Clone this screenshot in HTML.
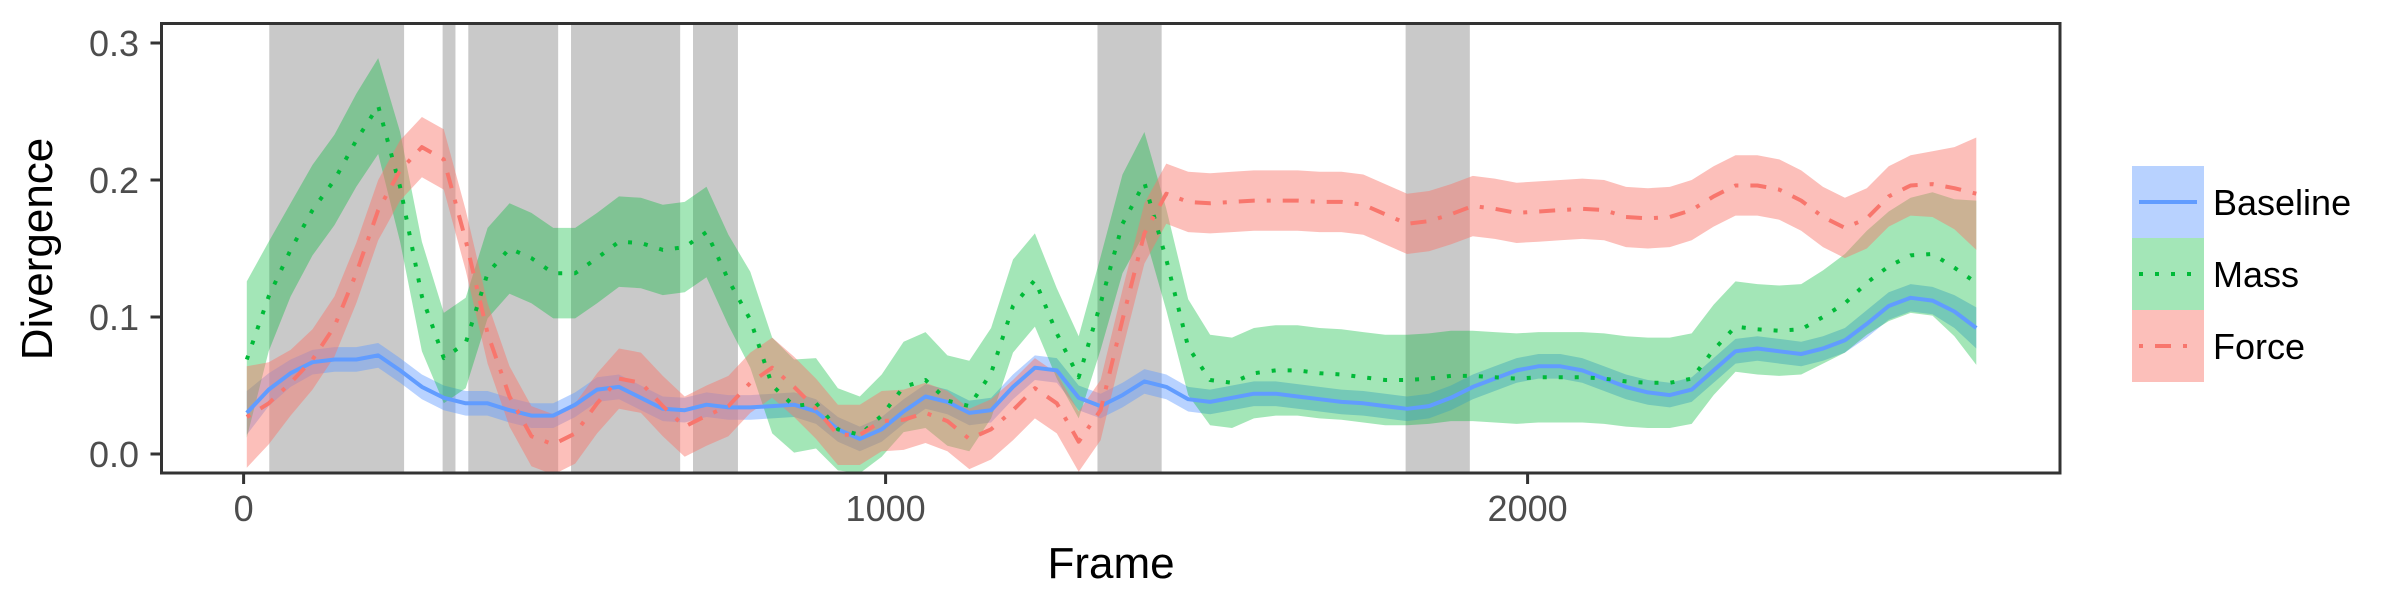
<!DOCTYPE html>
<html><head><meta charset="utf-8"><style>
html,body{margin:0;padding:0;background:#fff;}
svg{display:block;font-family:"Liberation Sans",Arial,sans-serif;}
</style></head><body>
<svg id="chart" width="2400" height="600" viewBox="0 0 2400 600">
<g id="rects"></g>
<g id="series"></g>
<rect x="161.5" y="23.5" width="1898.5" height="449.5" fill="none" stroke="#333" stroke-width="3"/>
<g id="axes"></g>
<text x="1111" y="578" font-size="44" text-anchor="middle" fill="#000">Frame</text>
<text transform="translate(52,249) rotate(-90)" font-size="44" text-anchor="middle" fill="#000">Divergence</text>
<g id="legend"></g>
</svg>
<script>
const frameStart = 5, frameStep = 34.1;
const baseline = [0.030,0.047,0.059,0.067,0.069,0.069,0.072,0.061,0.049,0.041,0.037,0.037,0.032,0.028,0.028,0.036,0.047,0.049,0.041,0.033,0.032,0.036,0.034,
0.034,0.035,0.036,0.031,0.018,0.011,0.018,0.031,0.042,0.038,0.030,0.032,0.049,0.063,0.061,0.041,0.035,0.043,0.053,0.049,0.040,0.038,0.041,
0.044,0.044,0.042,0.040,0.038,0.037,0.035,0.033,0.035,0.041,0.049,0.055,0.061,0.064,0.064,0.061,0.055,0.049,0.045,0.043,0.047,0.061,0.075,
0.077,0.075,0.073,0.077,0.083,0.095,0.108,0.114,0.112,0.104,0.092];
const mass = [0.069,0.115,0.149,0.178,0.200,0.229,0.254,0.195,0.115,0.070,0.081,0.132,0.150,0.143,0.132,0.132,0.143,0.155,0.154,0.149,0.151,0.162,0.127,
0.098,0.050,0.035,0.037,0.018,0.014,0.028,0.049,0.054,0.039,0.035,0.059,0.108,0.127,0.088,0.056,0.110,0.168,0.198,0.142,0.078,0.054,0.052,
0.059,0.061,0.061,0.059,0.058,0.056,0.054,0.054,0.055,0.057,0.057,0.056,0.055,0.056,0.056,0.056,0.055,0.053,0.052,0.052,0.055,0.076,0.093,
0.091,0.090,0.091,0.100,0.110,0.125,0.137,0.145,0.146,0.136,0.125];
const force = [0.027,0.037,0.052,0.069,0.093,0.132,0.178,0.207,0.224,0.215,0.156,0.088,0.042,0.013,0.007,0.015,0.037,0.055,0.052,0.035,0.020,0.028,0.035,
0.052,0.063,0.049,0.033,0.014,0.014,0.024,0.025,0.030,0.024,0.011,0.018,0.032,0.048,0.037,0.009,0.032,0.098,0.161,0.190,0.184,0.183,0.184,
0.185,0.185,0.185,0.184,0.184,0.182,0.175,0.168,0.170,0.175,0.181,0.179,0.176,0.177,0.178,0.179,0.178,0.173,0.172,0.173,0.178,0.188,0.196,
0.196,0.193,0.185,0.173,0.165,0.172,0.188,0.196,0.197,0.194,0.190];
const baselineSe = [0.016,0.012,0.01,0.009,0.009,0.009,0.009,0.009,0.009,0.009,0.009,0.009,0.009,0.009,0.009,0.009,0.009,0.009,0.009,0.009,0.009,0.009,0.009,
0.009,0.009,0.009,0.009,0.009,0.009,0.009,0.009,0.009,0.009,0.009,0.009,0.009,0.009,0.009,0.009,0.009,0.009,0.009,0.009,0.009,0.009,0.009,
0.009,0.009,0.009,0.009,0.009,0.009,0.009,0.009,0.009,0.009,0.009,0.009,0.009,0.009,0.009,0.009,0.009,0.009,0.009,0.009,0.009,0.009,0.009,
0.009,0.009,0.009,0.009,0.009,0.01,0.01,0.01,0.01,0.012,0.015];
const massSe = [0.057,0.04,0.034,0.033,0.033,0.034,0.035,0.04,0.04,0.033,0.033,0.033,0.033,0.033,0.033,0.033,0.033,0.033,0.033,0.033,0.033,0.033,0.033,
0.035,0.035,0.034,0.033,0.03,0.028,0.03,0.033,0.035,0.033,0.033,0.033,0.034,0.034,0.033,0.03,0.034,0.036,0.037,0.037,0.035,0.033,0.033,
0.033,0.033,0.033,0.033,0.033,0.033,0.033,0.033,0.033,0.033,0.033,0.033,0.033,0.033,0.033,0.033,0.033,0.033,0.033,0.033,0.033,0.033,0.033,
0.033,0.033,0.033,0.034,0.036,0.038,0.04,0.042,0.045,0.05,0.06];
const forceSe = [0.037,0.03,0.024,0.022,0.022,0.022,0.022,0.022,0.022,0.022,0.022,0.022,0.022,0.022,0.022,0.022,0.022,0.022,0.022,0.022,0.022,0.022,0.022,
0.022,0.022,0.022,0.022,0.022,0.022,0.022,0.022,0.022,0.022,0.022,0.022,0.022,0.022,0.022,0.022,0.022,0.022,0.022,0.022,0.022,0.022,0.022,
0.022,0.022,0.022,0.022,0.022,0.022,0.022,0.022,0.022,0.022,0.022,0.022,0.022,0.022,0.022,0.022,0.022,0.022,0.022,0.022,0.022,0.022,0.022,
0.022,0.022,0.022,0.022,0.022,0.022,0.022,0.022,0.024,0.03,0.041];
const regionStarts = [40,310,350,510,700,1330,1810];
const regionEnds = [250,330,490,680,770,1430,1910];
const xTicks = [0,1000,2000];
const yTicks = [0,0.1,0.2,0.3];
const yTickLabels = ["0.0","0.1","0.2","0.3"];
const seriesNames = ["Baseline","Mass","Force"];

const NS="http://www.w3.org/2000/svg";
const X0=161.5,X1=2060,Y0=23.5,Y1=473;
const xs=f=>243.6+f*0.642;
const ys=v=>454-v*1370;
function mk(tag,attrs,parent){const e=document.createElementNS(NS,tag);for(const k in attrs)e.setAttribute(k,attrs[k]);parent.appendChild(e);return e;}

const rg=document.getElementById('rects');
regionStarts.forEach((s,i)=>{
  const r=mk('rect',{x:xs(s),y:Y0,width:xs(regionEnds[i])-xs(s),height:Y1-Y0,fill:'#c9c9c9'},rg);
  
  
});

const sg=document.getElementById('series');
const cfg=[
 {m:baseline,se:baselineSe,c:'#619CFF',f:'rgba(97,156,255,0.45)',d:'',n:'baseline'},
 {m:mass,se:massSe,c:'#00BA38',f:'rgba(0,186,56,0.36)',d:'4 12',n:'mass'},
 {m:force,se:forceSe,c:'#F8766D',f:'rgba(248,118,109,0.47)',d:'4 12 16 12',n:'force'}
];
const frames=baseline.map((_,i)=>frameStart+frameStep*i);
cfg.forEach(s=>{
  const up=s.m.map((v,i)=>xs(frames[i]).toFixed(1)+','+ys(v+s.se[i]).toFixed(1));
  const lo=s.m.map((v,i)=>xs(frames[i]).toFixed(1)+','+ys(v-s.se[i]).toFixed(1)).reverse();
  const p=mk('polygon',{points:up.concat(lo).join(' '),fill:s.f},sg);
  
  
});
cfg.forEach(s=>{
  const pts=s.m.map((v,i)=>xs(frames[i]).toFixed(1)+','+ys(v).toFixed(1)).join(' ');
  const a={points:pts,fill:'none',stroke:s.c,'stroke-width':4,'stroke-linejoin':'round'};
  if(s.d)a['stroke-dasharray']=s.d;
  const l=mk('polyline',a,sg);
  
  
});

const ax=document.getElementById('axes');
xTicks.forEach(t=>{
  const tk=mk('line',{x1:xs(t),x2:xs(t),y1:Y1,y2:Y1+11,stroke:'#333','stroke-width':3},ax);
  
  
  const tx=mk('text',{x:xs(t),y:521,'font-size':36,'text-anchor':'middle',fill:'#4d4d4d'},ax);
  tx.textContent=t;
  
  
});
yTicks.forEach((t,i)=>{
  const tk=mk('line',{x1:X0-11,x2:X0,y1:ys(t),y2:ys(t),stroke:'#333','stroke-width':3},ax);
  
  
  const tx=mk('text',{x:139,y:ys(t)+13,'font-size':36,'text-anchor':'end',fill:'#4d4d4d'},ax);
  tx.textContent=yTickLabels[i];
  
  
});

const lg=document.getElementById('legend');
seriesNames.forEach((n,i)=>{
  const s=cfg[i],y=166+72*i;
  const g=mk('g',{},lg);
  
  
  mk('rect',{x:2132,y:y,width:72,height:72,fill:s.f},g);
  const a={x1:2139,x2:2197,y1:y+36,y2:y+36,stroke:s.c,'stroke-width':4};
  if(s.d)a['stroke-dasharray']=s.d;
  mk('line',a,g);
  const t=mk('text',{x:2213,y:y+49,'font-size':36,fill:'#000'},g);
  t.textContent=n;
});
</script>
</body></html>
